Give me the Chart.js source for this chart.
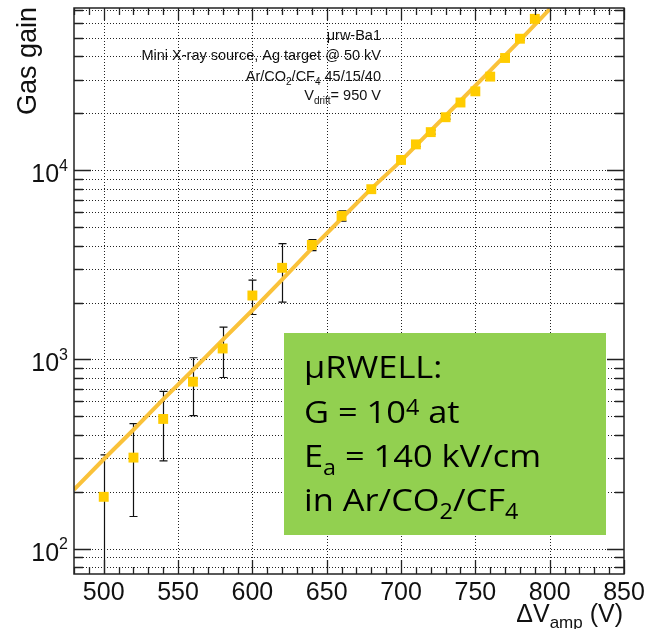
<!DOCTYPE html>
<html>
<head>
<meta charset="utf-8">
<script src="https://cdn.jsdelivr.net/npm/chart.js@4.4.1/dist/chart.umd.min.js"></script>
<style>
    html, body { margin: 0; padding: 0; background: #fff; }
    #wrap { width: 646px; height: 629px; position: relative; }
</style>
</head>
<body>
<div id="wrap"><canvas id="chart_gain"></canvas></div>
<script>
// measured points (dV_amp in V, gas gain, error)
var gainX = [500, 520, 540, 560, 580, 600, 620, 640, 660, 680, 700, 710, 720, 730, 740, 750, 760, 770, 780, 790];
var gainY = [188, 303, 485, 763, 1143, 2178, 3050, 4030, 5740, 7940, 11330, 13700, 15900, 19060, 22800, 26120, 31240, 39190, 49540, 63100];
var gainErr = [125, 155, 194, 258, 340, 450, 1040, 270, 360, 200, 300, 350, 400, 450, 550, 600, 700, 800, 1000, 1200];

// exponential fit curve
var fitX = [480, 500, 520, 540, 560, 580, 600, 620, 640, 660, 680, 700, 720, 740, 760, 780, 800];
var fitY = [205, 297, 425, 615, 880, 1270, 1820, 2640, 3860, 5560, 8000, 11200, 16200, 23300, 33600, 48500, 71000];

// axis ticks / labels
var xTickValues = [500, 550, 600, 650, 700, 750, 800, 850];
var xTickLabels = ['500', '550', '600', '650', '700', '750', '800', '850'];
var yDecades = [100, 1000, 10000];
var yDecadeExp = ['2', '3', '4'];

var X_MIN = 480, X_MAX = 850;
var Y_MIN = 73.5, Y_MAX = 72000;

var FONT = '"Liberation Sans", Arial, Helvetica, sans-serif';
var BOX_FONT = '"Open Sans", Roboto, sans-serif';

function richWidth(ctx, parts, o) {
    var w = 0;
    parts.forEach(function (p) {
        ctx.font = (p[1] === 'n' ? o.size : o.small) + 'px ' + o.family;
        w += ctx.measureText(p[0]).width;
    });
    return w;
}

function drawRich(ctx, parts, x, y, align, o) {
    var w = richWidth(ctx, parts, o);
    var cx = align === 'right' ? x - w : (align === 'center' ? x - w / 2 : x);
    ctx.textAlign = 'left';
    ctx.textBaseline = 'alphabetic';
    parts.forEach(function (p) {
        var dy = 0;
        if (p[1] === 'sub') dy = o.subDy;
        if (p[1] === 'sup') dy = o.supDy;
        ctx.font = (p[1] === 'n' ? o.size : o.small) + 'px ' + o.family;
        ctx.fillText(p[0], cx, y + dy);
        cx += ctx.measureText(p[0]).width;
    });
}

function yTickList() {
    var list = [];
    for (var d = 10; d <= 10000; d *= 10) {
        for (var m = 1; m <= 9; m++) {
            var v = d * m;
            if (v >= Y_MIN && v <= Y_MAX) list.push(v);
        }
    }
    return list;
}

var gainDecor = {
    id: 'gainDecor',
    beforeDatasetsDraw: function (chart) {
        var ctx = chart.ctx, a = chart.chartArea;
        var xs = chart.scales.x, ys = chart.scales.y;
        ctx.save();

        // dotted grid
        ctx.strokeStyle = '#222';
        ctx.lineWidth = 1;
        ctx.setLineDash([1, 2]);
        ctx.beginPath();
        xTickValues.forEach(function (v) {
            if (v >= X_MAX) return;
            var px = Math.round(xs.getPixelForValue(v)) + 0.5;
            ctx.moveTo(px, a.top);
            ctx.lineTo(px, a.bottom);
        });
        yTickList().forEach(function (v) {
            var py = Math.round(ys.getPixelForValue(v)) + 0.5;
            ctx.moveTo(a.left, py);
            ctx.lineTo(a.right, py);
        });
        ctx.stroke();
        ctx.setLineDash([]);

        // green info box
        ctx.fillStyle = '#92D050';
        ctx.fillRect(284, 333, 322, 202);

        // error bars
        ctx.beginPath();
        ctx.rect(a.left, a.top, a.right - a.left, a.bottom - a.top);
        ctx.clip();
        ctx.strokeStyle = '#111';
        ctx.lineWidth = 1.2;
        ctx.beginPath();
        for (var i = 0; i < gainX.length; i++) {
            var px = Math.round(xs.getPixelForValue(gainX[i])) + 0.5;
            var lo = gainY[i] - gainErr[i];
            var pTop = ys.getPixelForValue(gainY[i] + gainErr[i]);
            var pBot = lo > 0 ? ys.getPixelForValue(lo) : a.bottom + 5;
            if (pBot > a.bottom) pBot = a.bottom + 5;
            ctx.moveTo(px, pTop);
            ctx.lineTo(px, pBot);
            ctx.moveTo(px - 4, pTop);
            ctx.lineTo(px + 4, pTop);
            if (pBot <= a.bottom) {
                ctx.moveTo(px - 4, pBot);
                ctx.lineTo(px + 4, pBot);
            }
        }
        ctx.stroke();
        ctx.restore();
    },
    afterDatasetsDraw: function (chart) {
        var ctx = chart.ctx, a = chart.chartArea;
        var xs = chart.scales.x, ys = chart.scales.y;
        ctx.save();

        // frame
        ctx.strokeStyle = '#222';
        ctx.lineWidth = 1.5;
        ctx.strokeRect(a.left, a.top, a.right - a.left, a.bottom - a.top);

        // ticks
        ctx.lineWidth = 1.3;
        ctx.beginPath();
        for (var v = X_MIN; v <= X_MAX; v += 10) {
            var px = Math.round(xs.getPixelForValue(v)) + 0.5;
            var major = v % 50 === 0;
            ctx.moveTo(px, a.bottom);
            ctx.lineTo(px, a.bottom - (major ? 14 : 7));
            ctx.moveTo(px, a.top);
            ctx.lineTo(px, a.top + (major ? 12 : 7));
        }
        yTickList().forEach(function (v) {
            var py = Math.round(ys.getPixelForValue(v)) + 0.5;
            var len = yDecades.indexOf(v) >= 0 ? 17 : 9;
            ctx.moveTo(a.left, py);
            ctx.lineTo(a.left + len, py);
            ctx.moveTo(a.right, py);
            ctx.lineTo(a.right - len, py);
        });
        ctx.stroke();

        // tick labels
        ctx.fillStyle = '#111';
        ctx.font = '25px ' + FONT;
        ctx.textAlign = 'center';
        ctx.textBaseline = 'alphabetic';
        xTickValues.forEach(function (v, i) {
            ctx.fillText(xTickLabels[i], xs.getPixelForValue(v), 600);
        });
        var lab = { size: 25, small: 16, family: FONT, supDy: -11.5, subDy: 6 };
        yDecades.forEach(function (v, i) {
            var py = ys.getPixelForValue(v);
            drawRich(ctx, [['10', 'n'], [yDecadeExp[i], 'sup']], 68, py + 12, 'right', lab);
        });

        // axis titles
        drawRich(ctx, [['\u0394V', 'n'], ['amp', 'sub'], [' (V)', 'n']], 623, 622, 'right',
            { size: 25, small: 17, family: FONT, subDy: 6, supDy: -10 });
        ctx.save();
        ctx.translate(36, 7);
        ctx.rotate(-Math.PI / 2);
        ctx.font = '27px ' + FONT;
        ctx.textAlign = 'right';
        ctx.fillText('Gas gain', 0, 0);
        ctx.restore();

        // run conditions
        var small = { size: 14.5, small: 10, family: FONT, subDy: 3.5, supDy: -5 };
        drawRich(ctx, [['\u03bcrw-Ba1', 'n']], 381, 40, 'right', small);
        drawRich(ctx, [['Mini X-ray source, Ag target @ 50 kV', 'n']], 381, 60, 'right', small);
        drawRich(ctx, [['Ar/CO', 'n'], ['2', 'sub'], ['/CF', 'n'], ['4', 'sub'], [' 45/15/40', 'n']], 381, 81, 'right', small);
        drawRich(ctx, [['V', 'n'], ['drift', 'sub'], ['= 950 V', 'n']], 381, 100, 'right', small);

        // box text (slightly widened to match the slide font)
        ctx.fillStyle = '#000';
        ctx.save();
        ctx.translate(304, 0);
        ctx.scale(1.11, 1);
        var big = { size: 31, small: 21, family: BOX_FONT, subDy: 8, supDy: -8 };
        drawRich(ctx, [['\u03bcRWELL:', 'n']], 0, 378, 'left', big);
        drawRich(ctx, [['G = 10', 'n'], ['4', 'sup'], [' at', 'n']], 0, 423, 'left', big);
        drawRich(ctx, [['E', 'n'], ['a', 'sub'], [' = 140 kV/cm', 'n']], 0, 467, 'left', big);
        drawRich(ctx, [['in Ar/CO', 'n'], ['2', 'sub'], ['/CF', 'n'], ['4', 'sub']], 0, 511, 'left', big);
        ctx.restore();

        ctx.restore();
    }
};

var points = gainX.map(function (x, i) { return { x: x, y: gainY[i] }; });
var fitPoints = fitX.map(function (x, i) { return { x: x, y: fitY[i] }; });

var gainChart = new Chart(document.getElementById('chart_gain'), {
    type: 'line',
    data: {
        datasets: [
            {
                label: 'Gas gain',
                data: points,
                showLine: false,
                pointStyle: 'rect',
                pointRadius: 7,
                pointBackgroundColor: '#FFCC00',
                pointBorderColor: '#FFCC00',
                pointBorderWidth: 0,
                order: 0
            },
            {
                label: 'Fit',
                data: fitPoints,
                borderColor: '#FAC23A',
                borderWidth: 4,
                pointRadius: 0,
                tension: 0,
                fill: false,
                order: 1
            }
        ]
    },
    options: {
        responsive: true,
        maintainAspectRatio: false,
        animation: false,
        devicePixelRatio: 1,
        layout: { padding: { left: 74, top: 8, right: 22, bottom: 55 } },
        plugins: {
            legend: { display: false },
            tooltip: { enabled: false }
        },
        scales: {
            x: { type: 'linear', min: X_MIN, max: X_MAX, display: false },
            y: { type: 'logarithmic', min: Y_MIN, max: Y_MAX, display: false }
        }
    },
    plugins: [gainDecor]
});
</script>
</body>
</html>
